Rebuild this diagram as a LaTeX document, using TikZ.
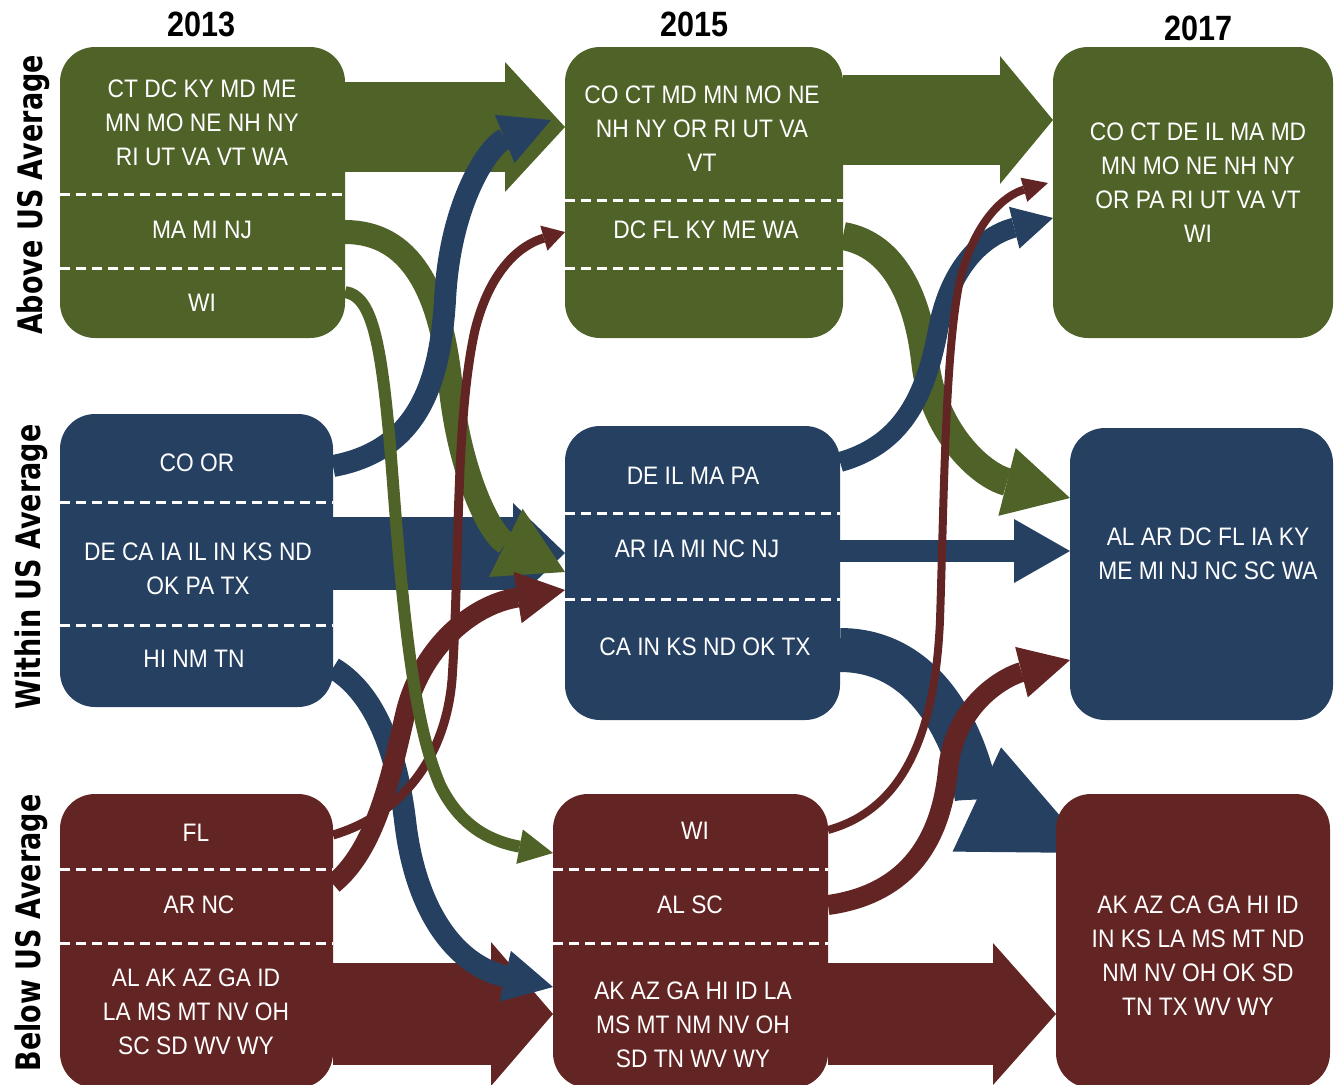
\documentclass[tikz,border=0pt]{standalone}
\usepackage{fontspec}
\setmainfont{Liberation Sans}
\newfontfamily\etatfont{Liberation Sans}[FakeStretch=0.9]
\newfontfamily\anneefont{Liberation Sans}[FakeStretch=0.87]
\newfontfamily\rangfont{DejaVu Sans}[FakeStretch=0.8]
\usetikzlibrary{arrows.meta, calc, backgrounds}

\definecolor{vert}{RGB}{79,98,40}
\definecolor{bleu}{RGB}{37,64,97}
\definecolor{bordeaux}{RGB}{99,37,35}

\tikzset{
  boite/.style={rounded corners=3.5mm, inner sep=0pt, outer sep=0pt},
  etat/.style={text=white, align=center, inner sep=0pt, font=\etatfont\fontsize{7.2}{9.7}\selectfont},
  annee/.style={font=\anneefont\bfseries\fontsize{10}{12}\selectfont},
  rang/.style={rotate=90, font=\rangfont\bfseries\fontsize{9.6}{11.5}\selectfont},
  tirets/.style={white, line width=0.3mm, dash pattern=on 1mm off 0.6mm},
}

\begin{document}
\begin{tikzpicture}[x=0.1mm, y=-0.1mm]
  \useasboundingbox (0,0) rectangle (1335,1084);

  % En-tetes : annees en haut, rangs a gauche.
  \node[annee] (an13) at (202,24) {2013};
  \node[annee] (an15) at (695,24) {2015};
  \node[annee] (an17) at (1198,28) {2017};
  \node[rang] (rang1) at (33,195) {Above US Average};
  \node[rang] (rang2) at (31,567) {Within US Average};
  \node[rang] (rang3) at (31,933) {Below US Average};

  % Boites, une par annee et par rang.
  \node[boite, fill=vert, minimum width=28.5mm, minimum height=29.1mm] (g13) at (202.5,192.5) {};
  \node[boite, fill=vert, minimum width=27.8mm, minimum height=29.1mm] (g15) at (704,192.5) {};
  \node[boite, fill=vert, minimum width=28mm, minimum height=29.1mm] (g17) at (1193,192.5) {};
  \node[boite, fill=bleu, minimum width=27.3mm, minimum height=29.3mm] (b13) at (196.5,560.5) {};
  \node[boite, fill=bleu, minimum width=27.5mm, minimum height=29.4mm] (b15) at (702.5,573) {};
  \node[boite, fill=bleu, minimum width=26.3mm, minimum height=29.2mm] (b17) at (1201.5,574) {};
  \node[boite, fill=bordeaux, minimum width=27.3mm, minimum height=29.4mm] (m13) at (196.5,941) {};
  \node[boite, fill=bordeaux, minimum width=27.5mm, minimum height=29.4mm] (m15) at (690.5,941) {};
  \node[boite, fill=bordeaux, minimum width=27.4mm, minimum height=29.4mm] (m17) at (1193,941) {};

  % Separations en pointilles.
  \draw[tirets] (g13.west |- 0,194) -- (g13.east |- 0,194);
  \draw[tirets] (g13.west |- 0,268) -- (g13.east |- 0,268);
  \draw[tirets] (g15.west |- 0,200) -- (g15.east |- 0,200);
  \draw[tirets] (g15.west |- 0,268) -- (g15.east |- 0,268);
  \draw[tirets] (b13.west |- 0,502) -- (b13.east |- 0,502);
  \draw[tirets] (b13.west |- 0,625) -- (b13.east |- 0,625);
  \draw[tirets] (b15.west |- 0,513) -- (b15.east |- 0,513);
  \draw[tirets] (b15.west |- 0,599) -- (b15.east |- 0,599);
  \draw[tirets] (m13.west |- 0,869) -- (m13.east |- 0,869);
  \draw[tirets] (m13.west |- 0,943) -- (m13.east |- 0,943);
  \draw[tirets] (m15.west |- 0,869) -- (m15.east |- 0,869);
  \draw[tirets] (m15.west |- 0,943) -- (m15.east |- 0,943);

  % Etats.
  \node[etat] (g13a) at (202,123) {CT DC KY MD ME\\MN MO NE NH NY\\RI UT VA VT WA};
  \node[etat] (g13b) at (202,230) {MA MI NJ};
  \node[etat] (g13c) at (202,303) {WI};
  \node[etat] (g15a) at (702,129) {CO CT MD MN MO NE\\NH NY OR RI UT VA\\VT};
  \node[etat] (g15b) at (706,230) {DC FL KY ME WA};
  \node[etat] (g17a) at (1198,182.5) {CO CT DE IL MA MD\\MN MO NE NH NY\\OR PA RI UT VA VT\\WI};
  \node[etat] (b13a) at (197,463) {CO OR};
  \node[etat] (b13b) at (198,569) {DE CA IA IL IN KS ND\\OK PA TX};
  \node[etat] (b13c) at (194,659) {HI NM TN};
  \node[etat] (b15a) at (693,476) {DE IL MA PA};
  \node[etat] (b15b) at (697,549) {AR IA MI NC NJ};
  \node[etat] (b15c) at (705,647) {CA IN KS ND OK TX};
  \node[etat] (b17a) at (1208,554) {AL AR DC FL IA KY\\ME MI NJ NC SC WA};
  \node[etat] (m13a) at (196,833) {FL};
  \node[etat] (m13b) at (199,905) {AR NC};
  \node[etat] (m13c) at (196,1012) {AL AK AZ GA ID\\LA MS MT NV OH\\SC SD WV WY};
  \node[etat] (m15a) at (695,831) {WI};
  \node[etat] (m15b) at (690,905) {AL SC};
  \node[etat] (m15c) at (693,1024.5) {AK AZ GA HI ID LA\\MS MT NM NV OH\\SD TN WV WY};
  \node[etat] (m17a) at (1198,955.5) {AK AZ CA GA HI ID\\IN KS LA MS MT ND\\NM NV OH OK SD\\TN TX WV WY};

  \begin{pgfonlayer}{background}
  % Grandes fleches droites : on reste dans le meme rang.
  \draw[vert, line width=9mm, -{Triangle[length=6mm, width=13mm, line width=0pt]}]
       (g13.east |- 0,127) -- (g15.west |- 0,127);
  \draw[vert, line width=9mm, -{Triangle[length=5.3mm, width=12.8mm, line width=0pt]}]
       (g15.east |- 0,120) -- (g17.west |- 0,120);
  \draw[bleu, line width=7.3mm, -{Triangle[length=5.2mm, width=10mm, line width=0pt]}]
       (b13.east |- 0,553) -- (b15.west |- 0,553);
  \draw[bleu, line width=2.2mm, -{Triangle[length=5.6mm, width=6.4mm, line width=0pt]}]
       (b15.east |- 0,551) -- (b17.west |- 0,551);
  \draw[bordeaux, line width=10.2mm, -{Triangle[length=6.2mm, width=14.4mm, line width=0pt]}]
       (m13.east |- 0,1014) -- (m15.west |- 0,1014);
  \draw[bordeaux, line width=10.2mm, -{Triangle[length=6.3mm, width=14.2mm, line width=0pt]}]
       (m15.east |- 0,1014) -- (m17.west |- 0,1014);

  % Descentes vers le rang moyen.
  \draw[vert, line width=2.4mm, -{Triangle[length=6.6mm, width=7.6mm, line width=0pt]}]
       (g13.east |- 0,232) .. controls (410,232) and (440,290) .. (450,380)
       .. controls (458,470) and (490,535) .. (b15.west |- 0,572);
  \draw[vert, line width=2.8mm, -{Triangle[length=6.5mm, width=7mm, line width=0pt]}]
       (g15.east |- 0,236) .. controls (895,245) and (918,300) .. (925,360)
       .. controls (932,430) and (980,475) .. (b17.west |- 0,498);

  % Fleches bleues.
  \draw[bleu, line width=2.2mm, -{Triangle[length=5mm, width=5.2mm, line width=0pt]}]
       (b13.east |- 0,466) .. controls (420,450) and (440,380) .. (445,300)
       .. controls (450,200) and (490,145) .. ($(g15.west |- 0,120)+(-14,0)$);
  \draw[bleu, line width=2.2mm, -{Triangle[length=4.9mm, width=5.2mm, line width=0pt]}]
       (b13.east |- 0,668) .. controls (370,690) and (395,740) .. (405,820)
       .. controls (415,910) and (455,965) .. (m15.west |- 0,987);
  \draw[bleu, line width=2mm, -{Triangle[length=4mm, width=4.3mm, line width=0pt]}]
       (b15.east |- 0,462) .. controls (900,445) and (925,400) .. (938,330)
       .. controls (950,265) and (985,235) .. (g17.west |- 0,218);
  \draw[bleu, line width=4.4mm, -{Triangle[length=12.7mm, width=11.5mm, line width=0pt]}]
       (b15.east |- 0,650) .. controls (955,650) and (978,800) .. ($(m17.west |- 0,853)+(36,0)$);

  % Fleches bordeaux.
  \draw[bordeaux, line width=2mm, -{Triangle[length=4.8mm, width=5.2mm, line width=0pt]}]
       (m13.east |- 0,884) .. controls (375,850) and (390,780) .. (405,715)
       .. controls (420,650) and (470,605) .. (b15.west |- 0,590);
  \draw[bordeaux, line width=0.9mm, -{Triangle[length=2.2mm, width=2.6mm, line width=0pt]}]
       (m13.east |- 0,835) .. controls (400,815) and (445,760) .. (452,680)
       .. controls (460,560) and (455,420) .. (475,330)
       .. controls (490,270) and (520,245) .. (g15.west |- 0,232);
  \draw[bordeaux, line width=0.8mm, -{Triangle[length=2.5mm, width=2.5mm, line width=0pt]}]
       (m15.east |- 0,830) .. controls (900,810) and (935,740) .. (940,620)
       .. controls (944,500) and (945,350) .. (960,280)
       .. controls (975,220) and (1005,195) .. ($(g17.west |- 0,183)+(-5,0)$);
  \draw[bordeaux, line width=2mm, -{Triangle[length=5mm, width=5.2mm, line width=0pt]}]
       (m15.east |- 0,905) .. controls (900,895) and (940,850) .. (948,770)
       .. controls (955,700) and (1010,675) .. (b17.west |- 0,660);

  % WI descend au rang inferieur.
  \draw[vert, line width=1.2mm, -{Triangle[length=3.4mm, width=3.5mm, line width=0pt]}]
       (g13.east |- 0,292) .. controls (372,296) and (382,340) .. (392,470)
       .. controls (402,600) and (412,720) .. (440,785)
       .. controls (462,830) and (495,842) .. (m15.west |- 0,853);
  \end{pgfonlayer}

\end{tikzpicture}
\end{document}
